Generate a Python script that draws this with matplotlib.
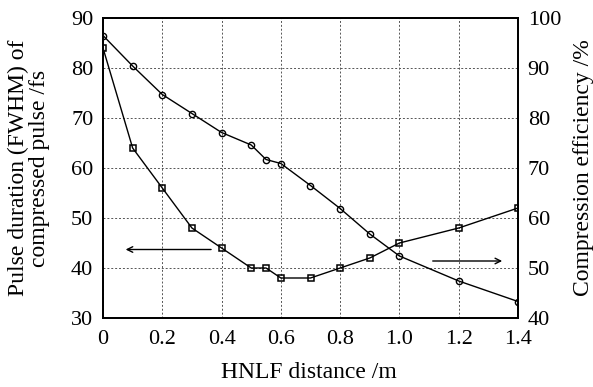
import numpy as np
import matplotlib.pyplot as plt

plt.rcParams['font.family'] = ['Liberation Serif', 'DejaVu Serif']

# HNLF distance (m)
dist = [0, 0.1, 0.2, 0.3, 0.4, 0.5, 0.55, 0.6, 0.7, 0.8, 0.9, 1.0, 1.2, 1.4]
# pulse duration (fs), left axis
fwhm = [84, 64, 56, 48, 44, 40, 40, 38, 38, 40, 42, 45, 48, 52]
# compression efficiency (%), right axis
eff = [96.5, 90.4, 84.7, 80.9, 77.1, 74.6, 71.7, 70.9, 66.5, 61.9, 56.8, 52.4, 47.4, 43.3]

fig = plt.figure(figsize=(5.93, 3.87), dpi=100)
ax = fig.add_axes([103 / 593, 1 - 318 / 387, 415 / 593, 300 / 387])
ax2 = ax.twinx()

ax.plot(dist, fwhm, color='black', lw=1, marker='s', ms=5, mfc='none', mec='black', mew=1.1)
ax2.plot(dist, eff, color='black', lw=1, marker='o', ms=4.5, mfc='none', mec='black', mew=1.0)

ax.set_xlim(0, 1.4)
ax.set_ylim(30, 90)
ax2.set_ylim(40, 100)
ax.set_xticks([0, 0.2, 0.4, 0.6, 0.8, 1.0, 1.2, 1.4])
ax.set_xticklabels(['0', '0.2', '0.4', '0.6', '0.8', '1.0', '1.2', '1.4'])
ax.set_yticks(np.arange(30, 91, 10))
ax2.set_yticks(np.arange(40, 101, 10))

ax.grid(True, color='#555555', ls=(0, (2, 2)), lw=0.7)
ax.tick_params(axis='x', length=0, labelsize=16, pad=9)
ax.tick_params(axis='y', length=0, labelsize=16, pad=7)
ax2.tick_params(length=0, labelsize=16, pad=7)
for a in (ax, ax2):
    for s in a.spines.values():
        s.set_linewidth(1.3)

ax.annotate('', xy=(0.067, 43.7), xytext=(0.374, 43.7),
            arrowprops=dict(arrowstyle='->', color='black', lw=1))
ax.annotate('', xy=(1.356, 41.4), xytext=(1.103, 41.4),
            arrowprops=dict(arrowstyle='->', color='black', lw=1))

ax.set_xlabel('HNLF distance /m', fontsize=17)
ax.set_ylabel('Pulse duration (FWHM) of\ncompressed pulse /fs', fontsize=17, linespacing=1.0)
ax2.set_ylabel('Compression efficiency /%', fontsize=17)
ax.xaxis.set_label_coords(0.495, -0.145)
ax.yaxis.set_label_coords(-0.128, 0.5)
ax2.yaxis.set_label_coords(1.133, 0.5)

fig.savefig('out.png', dpi=100)
